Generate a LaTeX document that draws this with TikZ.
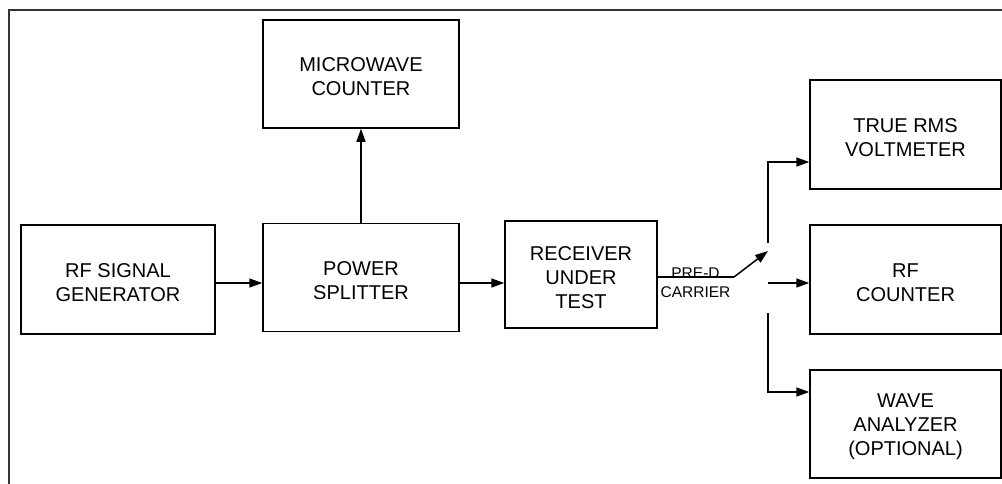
\documentclass[tikz,border=0pt]{standalone}
\usepackage{fontspec}
\setmainfont{Liberation Sans}
\usetikzlibrary{arrows.meta}
\newcommand{\topstrut}{\rule{0pt}{20pt}}
\tikzset{
  blk/.style={draw, line width=1.5pt, rectangle, inner sep=0pt, align=center,
    font=\fontsize{20}{24}\selectfont},
  conn/.style={line width=1.5pt},
  arr/.style={conn, -{Triangle[length=13pt,width=9pt]}},
  lbl/.style={inner sep=0pt, font=\fontsize{15.5}{18}\selectfont}
}
\begin{document}
\begin{tikzpicture}[x=1pt,y=-1pt]
\useasboundingbox (0,0) rectangle (1002,483);
% frame
\draw[line width=1.5pt, draw=black!80] (9,490) -- (9,10) -- (1010,10);
% blocks
\node[blk, minimum width=194pt, minimum height=109pt] (gen) at (118,279.5) {\topstrut RF SIGNAL\\GENERATOR};
\node[blk, minimum width=196pt, minimum height=108pt] (spl) at (361,277.5) {\topstrut POWER\\SPLITTER};
\node[blk, minimum width=196pt, minimum height=108pt] (mwc) at (361,74) {\topstrut MICROWAVE\\COUNTER};
\node[blk, minimum width=152pt, minimum height=107pt] (rx) at (581,274.5) {\topstrut RECEIVER\\UNDER\\TEST};
\node[blk, minimum width=191pt, minimum height=109pt] (rms) at (905.5,134.5) {\topstrut TRUE RMS\\VOLTMETER};
\node[blk, minimum width=191pt, minimum height=109pt] (rfc) at (905.5,279.5) {\topstrut RF\\COUNTER};
\node[blk, minimum width=191pt, minimum height=108pt] (wav) at (905.5,424) {\topstrut WAVE\\ANALYZER\\(OPTIONAL)};
% coordinates
\coordinate (a1) at (216,283);
\coordinate (a2) at (459,283);
\coordinate (pd0) at (657,277);
\coordinate (pd1) at (734,277);
\coordinate (lev) at (768,251);
\coordinate (t0) at (768,243);
\coordinate (t1) at (768,162);
\coordinate (m0) at (768,283);
\coordinate (b0) at (768,313);
\coordinate (b1) at (768,392);
% labels
\node[lbl, anchor=base] (pre) at (695.5,278) {PRE-D};
\node[lbl, anchor=base] (car) at (695.5,297.5) {CARRIER};
% connectors
\draw[arr] (a1) -- (spl.west |- a1);
\draw[arr] (spl.north) -- (mwc.south);
\draw[arr] (a2) -- (rx.west |- a2);
\draw[conn] (pd0) -- (pd1);
\draw[arr] (pd1) -- (lev);
\draw[arr] (t0) -- (t1) -- (rms.west |- t1);
\draw[arr] (m0) -- (rfc.west |- m0);
\draw[arr] (b0) -- (b1) -- (wav.west |- b1);
\end{tikzpicture}
\end{document}
